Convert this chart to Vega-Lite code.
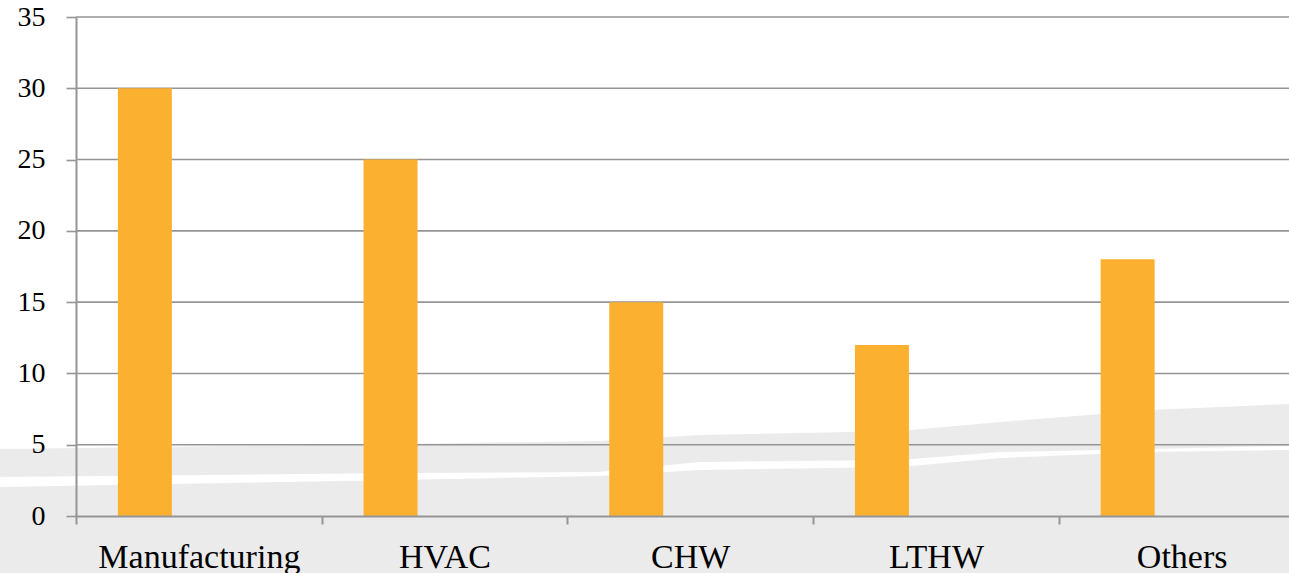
{
  "$schema": "https://vega.github.io/schema/vega-lite/v6.json",
  "width": 1213,
  "height": 499,
  "autosize": {"type": "none"},
  "padding": {"left": 76, "top": 17, "right": 0, "bottom": 57},
  "background": "white",
  "config": {"view": {"stroke": null}, "font": "Liberation Serif"},
  "datasets": {
    "usage": [
      {"category": "Manufacturing", "series": "a", "value": 30},
      {"category": "HVAC", "series": "a", "value": 25},
      {"category": "CHW", "series": "a", "value": 15},
      {"category": "LTHW", "series": "a", "value": 12},
      {"category": "Others", "series": "a", "value": 18}
    ],
    "gridlines": [
      {"v": 5}, {"v": 10}, {"v": 15}, {"v": 20}, {"v": 25}, {"v": 30}, {"v": 35}
    ],
    "backdrop": [
      {"pos": 0, "top": 4.70, "gapTop": 2.74, "gapBottom": 2.03, "floor": -4.2},
      {"pos": 31, "top": 5.05, "gapTop": 3.02, "gapBottom": 2.53, "floor": -4.2},
      {"pos": 46.5, "top": 5.26, "gapTop": 3.09, "gapBottom": 2.81, "floor": -4.2},
      {"pos": 54.3, "top": 5.68, "gapTop": 3.79, "gapBottom": 3.23, "floor": -4.2},
      {"pos": 69.8, "top": 5.96, "gapTop": 3.93, "gapBottom": 3.44, "floor": -4.2},
      {"pos": 77.6, "top": 6.59, "gapTop": 4.49, "gapBottom": 4.07, "floor": -4.2},
      {"pos": 89.2, "top": 7.43, "gapTop": 4.70, "gapBottom": 4.49, "floor": -4.2},
      {"pos": 100, "top": 7.86, "gapTop": 4.91, "gapBottom": 4.63, "floor": -4.2}
    ]
  },
  "layer": [
    {
      "data": {"name": "backdrop"},
      "mark": {"type": "area", "color": "#ebebeb", "interpolate": "linear"},
      "encoding": {
        "x": {"field": "pos", "type": "quantitative", "axis": null,
              "scale": {"domain": [0, 100], "range": [-76, 1213], "nice": false, "zero": false}},
        "y": {"field": "top", "type": "quantitative", "title": null,
              "scale": {"domain": [0, 35], "nice": false}},
        "y2": {"field": "gapTop"}
      }
    },
    {
      "data": {"name": "backdrop"},
      "mark": {"type": "area", "color": "#ebebeb", "interpolate": "linear"},
      "encoding": {
        "x": {"field": "pos", "type": "quantitative", "axis": null,
              "scale": {"domain": [0, 100], "range": [-76, 1213], "nice": false, "zero": false}},
        "y": {"field": "gapBottom", "type": "quantitative", "title": null,
              "scale": {"domain": [0, 35], "nice": false}},
        "y2": {"field": "floor"}
      }
    },
    {
      "data": {"name": "gridlines"},
      "mark": {"type": "rule", "color": "#959595", "strokeWidth": 1.6},
      "encoding": {
        "y": {"field": "v", "type": "quantitative", "title": null,
              "scale": {"domain": [0, 35], "nice": false}}
      }
    },
    {
      "data": {"name": "usage"},
      "mark": {"type": "bar", "color": "#FBB12F"},
      "encoding": {
        "x": {
          "field": "category", "type": "nominal", "sort": null,
          "scale": {"range": [0, 1228.5], "paddingInner": 0, "paddingOuter": 0},
          "axis": {
            "title": null, "tickBand": "extent", "labelAngle": 0, "zindex": 1,
            "labelFont": "Liberation Serif", "labelFontSize": 34, "labelColor": "#000000",
            "labelBaseline": "alphabetic", "labelPadding": 43, "labelLimit": 0,
            "tickSize": 8, "tickColor": "#959595", "tickWidth": 2,
            "domainColor": "#959595", "domainWidth": 2, "grid": false
          }
        },
        "xOffset": {
          "field": "series", "type": "nominal",
          "scale": {"domain": ["a", "b", "c"], "paddingInner": 0, "paddingOuter": 0.775}
        },
        "y": {
          "field": "value", "type": "quantitative", "title": null,
          "scale": {"domain": [0, 35], "nice": false},
          "axis": {
            "values": [0, 5, 10, 15, 20, 25, 30, 35], "grid": false, "zindex": 1,
            "labelFont": "Liberation Serif", "labelFontSize": 28, "labelColor": "#000000",
            "labelPadding": 21, "tickSize": 10, "tickColor": "#959595", "tickWidth": 1.6,
            "domainColor": "#959595", "domainWidth": 2
          }
        }
      }
    }
  ],
  "resolve": {"scale": {"x": "independent"}}
}
